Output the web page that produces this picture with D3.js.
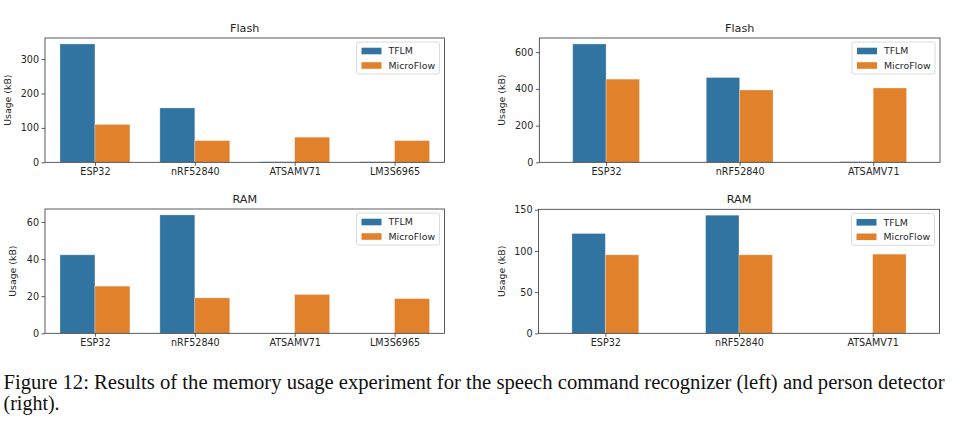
<!DOCTYPE html>
<html>
<head>
<meta charset="utf-8">
<script src="https://cdn.jsdelivr.net/npm/d3@7"></script>
<style>
  body { margin: 0; background: #fff; }
  svg { display: block; }
</style>
</head>
<body>
<svg id="fig"></svg>
<script>
const width = 960;
const height = 421;

// ----- DATA -----
const speechDevices = ["ESP32", "nRF52840", "ATSAMV71", "LM3S6965"];
const personDevices = ["ESP32", "nRF52840", "ATSAMV71"];
const seriesNames = ["TFLM", "MicroFlow"];

const speechFlashTFLM = [344, 158, 1.5, 1.5];
const speechFlashMicroFlow = [110, 63, 73, 63];
const speechRamTFLM = [42.3, 63.8, 0, 0];
const speechRamMicroFlow = [25.4, 19.1, 20.9, 18.7];

const personFlashTFLM = [645, 462, 3];
const personFlashMicroFlow = [453, 394, 405];
const personRamTFLM = [121.2, 143.4, 0];
const personRamMicroFlow = [95.3, 95.3, 96.1];

const speechFlashTicks = [0, 100, 200, 300];
const personFlashTicks = [0, 200, 400, 600];
const speechRamTicks = [0, 20, 40, 60];
const personRamTicks = [0, 50, 100, 150];

const caption = [
  "Figure 12: Results of the memory usage experiment for the speech command recognizer (left) and person detector",
  "(right)."
];

const colors = ["#3274a1", "#e1812c"];
const textColor = "#262626";

const svg = d3.select("#fig").attr("width", width).attr("height", height);

function panel(opts) {
  const { x0, x1, y0, y1, title, cats, tflm, micro, ticks, barW } = opts;
  const g = svg.append("g");

  const x = d3.scaleLinear().domain([-0.5, cats.length - 0.5]).range([x0, x1]);
  const ymax = d3.max(tflm.concat(micro)) * 1.05;
  const y = d3.scaleLinear().domain([0, ymax]).range([y1, y0]);

  const bars = [];
  cats.forEach((c, i) => {
    bars.push({ i, v: tflm[i], s: 0 });
    bars.push({ i, v: micro[i], s: 1 });
  });

  g.selectAll("rect.bar")
    .data(bars)
    .join("rect")
    .attr("class", "bar")
    .attr("x", d => x(d.i + (d.s === 0 ? -barW : 0)))
    .attr("width", x(barW) - x(0))
    .attr("y", d => y(d.v))
    .attr("height", d => y(0) - y(d.v))
    .attr("fill", d => colors[d.s])
    .attr("stroke", d => d.v > 0 ? "rgba(255,255,255,0.35)" : colors[d.s])
    .attr("stroke-width", d => d.v > 0 ? 0.8 : 0.6);

  // axes
  const xAxis = g.append("g")
    .attr("transform", `translate(0,${y1})`)
    .call(d3.axisBottom(x).tickValues(d3.range(cats.length)).tickFormat(i => cats[i]).tickSize(3.5).tickPadding(2.5));
  const yAxis = g.append("g")
    .attr("transform", `translate(${x0},0)`)
    .call(d3.axisLeft(y).tickValues(ticks).tickSize(3.5).tickPadding(2.5));

  [xAxis, yAxis].forEach(a => {
    a.select(".domain").remove();
    a.selectAll("line").attr("stroke", "#333").attr("stroke-width", 0.8);
    a.selectAll("text")
      .attr("fill", textColor)
      .style("font-family", "DejaVu Sans")
      .style("font-size", "9.6px");
  });

  // frame
  g.append("rect")
    .attr("x", x0).attr("y", y0)
    .attr("width", x1 - x0).attr("height", y1 - y0)
    .attr("fill", "none")
    .attr("stroke", "#333")
    .attr("stroke-width", 0.8);

  g.append("text")
    .attr("x", (x0 + x1) / 2)
    .attr("y", y0 - 6)
    .attr("text-anchor", "middle")
    .attr("fill", textColor)
    .style("font-family", "DejaVu Sans")
    .style("font-size", "11.2px")
    .text(title);

  const labelX = x0 - opts.labelOffset;
  g.append("text")
    .attr("transform", `translate(${labelX},${(y0 + y1) / 2}) rotate(-90)`)
    .attr("text-anchor", "middle")
    .attr("fill", textColor)
    .style("font-family", "DejaVu Sans")
    .style("font-size", "9.4px")
    .text("Usage (kB)");

  // legend
  const lw = 83, lh = 32;
  const lx = x1 - 5 - lw, ly = y0 + 4;
  const leg = g.append("g");
  leg.append("rect")
    .attr("x", lx).attr("y", ly)
    .attr("width", lw).attr("height", lh)
    .attr("rx", 2)
    .attr("fill", "rgba(255,255,255,0.8)")
    .attr("stroke", "#d0d0d0")
    .attr("stroke-width", 0.8);
  seriesNames.forEach((n, k) => {
    const cy = ly + 9 + k * 14.5;
    leg.append("rect")
      .attr("x", lx + 5).attr("y", cy - 3.3)
      .attr("width", 20).attr("height", 6.6)
      .attr("fill", colors[k]);
    leg.append("text")
      .attr("x", lx + 32).attr("y", cy + 3.3)
      .attr("fill", textColor)
      .style("font-family", "DejaVu Sans")
      .style("font-size", "9.4px")
      .text(n);
  });
}

panel({ x0: 45, x1: 444.5, y0: 38, y1: 162.3, title: "Flash", cats: speechDevices,
  tflm: speechFlashTFLM, micro: speechFlashMicroFlow, ticks: speechFlashTicks, barW: 0.35, labelOffset: 34 });
panel({ x0: 539.3, x1: 940, y0: 38, y1: 162.3, title: "Flash", cats: personDevices,
  tflm: personFlashTFLM, micro: personFlashMicroFlow, ticks: personFlashTicks, barW: 0.25, labelOffset: 34 });
panel({ x0: 45, x1: 444.5, y0: 209, y1: 333.3, title: "RAM", cats: speechDevices,
  tflm: speechRamTFLM, micro: speechRamMicroFlow, ticks: speechRamTicks, barW: 0.35, labelOffset: 29 });
panel({ x0: 538.5, x1: 939.5, y0: 209.3, y1: 333.3, title: "RAM", cats: personDevices,
  tflm: personRamTFLM, micro: personRamMicroFlow, ticks: personRamTicks, barW: 0.25, labelOffset: 34 });

// caption
const capText = svg.selectAll("text.caption")
  .data(caption)
  .join("text")
  .attr("class", "caption")
  .attr("x", 3.5)
  .attr("y", (d, i) => 389 + i * 21)
  .attr("fill", "#111")
  .style("font-family", "Liberation Serif")
  .style("font-size", "20px")
  .text(d => d);
capText.filter((d, i) => i === 0)
  .attr("textLength", 941)
  .attr("lengthAdjust", "spacingAndGlyphs");
</script>
</body>
</html>
